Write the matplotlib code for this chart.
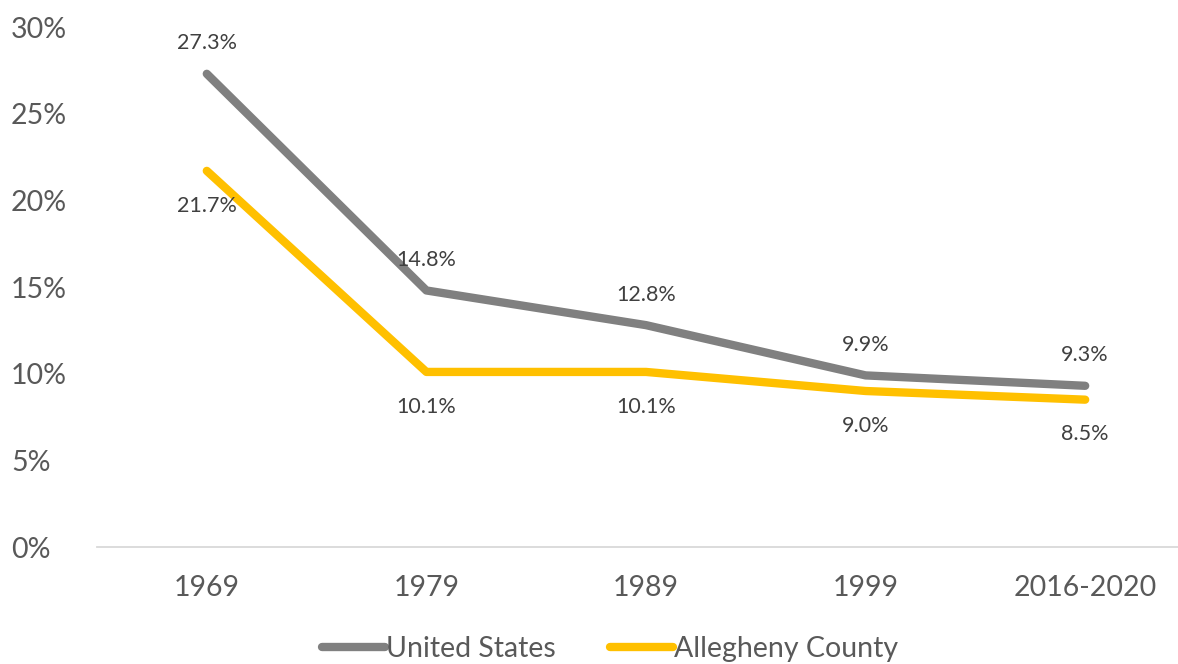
import matplotlib
matplotlib.use("Agg")
import matplotlib.pyplot as plt
from matplotlib.ticker import FuncFormatter

categories = ["1969", "1979", "1989", "1999", "2016-2020"]
us_values = [27.3, 14.8, 12.8, 9.9, 9.3]
allegheny_values = [21.7, 10.1, 10.1, 9.0, 8.5]
series_names = ["United States", "Allegheny County"]

plt.rcParams['font.family'] = ['Lato', 'DejaVu Sans']

W, H = 1178, 664
fig = plt.figure(figsize=(W/100, H/100), dpi=100)
left = 97 / W
bottom = (H - 547) / H
height = (547 - 27) / H
ax = fig.add_axes([left, bottom, (1178 - 97) / W, height])

x = list(range(len(categories)))
gray = "#808080"
gold = "#FFC000"
l1, = ax.plot(x, us_values, color=gray, lw=6, solid_capstyle="round", solid_joinstyle="round", label=series_names[0])
l2, = ax.plot(x, allegheny_values, color=gold, lw=6, solid_capstyle="round", solid_joinstyle="round", label=series_names[1])

for xi, v in zip(x, us_values):
    ax.annotate(f"{v:.1f}%", (xi, v), xytext=(0, 22), textcoords="offset points",
                ha="center", va="center", fontsize=15.5, color="#404040")
for xi, v in zip(x, allegheny_values):
    ax.annotate(f"{v:.1f}%", (xi, v), xytext=(0, -25), textcoords="offset points",
                ha="center", va="center", fontsize=15.5, color="#404040")

ax.set_ylim(0, 30)
ax.set_xlim(-0.5, 4.5 - 17/220)
ax.set_yticks([0, 5, 10, 15, 20, 25, 30])
ax.yaxis.set_major_formatter(FuncFormatter(lambda v, p: f"{v:.0f}%"))
ax.set_xticks(x)
ax.set_xticklabels(categories)
ax.tick_params(axis="both", length=0, labelsize=20.5, colors="#595959")
ax.tick_params(axis="x", pad=20)
for s in ["top", "right", "left"]:
    ax.spines[s].set_visible(False)
ax.spines["bottom"].set_color("#D9D9D9")
ax.spines["bottom"].set_linewidth(1.3)
for lab in ax.get_yticklabels():
    lab.set_horizontalalignment("left")
ax.tick_params(axis="y", pad=62)

leg = fig.legend(handles=[l1, l2], loc="center", bbox_to_anchor=(0.518, (H-649)/H),
                 ncol=2, frameon=False, fontsize=20.5, handlelength=2.2, handletextpad=0.05,
                 columnspacing=1.9, labelcolor="#595959")
fig.savefig("out.png", dpi=100)
